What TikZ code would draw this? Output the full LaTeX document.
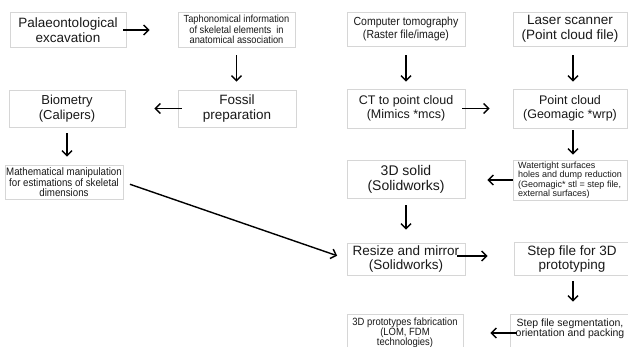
\documentclass[tikz,border=0pt]{standalone}
\usepackage{fontspec}
\setmainfont{Liberation Sans}
\newfontfamily\narrowsans[FakeStretch=0.9]{Liberation Sans}
\usetikzlibrary{arrows.meta}
\definecolor{framegray}{gray}{0.84}
\definecolor{inkgray}{gray}{0.1}

\tikzset{
  stage/.style={draw=framegray, line width=0.7pt, align=center, inner sep=1pt, text=inkgray},
  bigtext/.style={font=\fontsize{13.5}{14.5}\selectfont},
  midtext/.style={font=\fontsize{12.5}{13.5}\selectfont},
  nartext/.style={font=\narrowsans\fontsize{11.7}{12.5}\selectfont},
  smalltext/.style={font=\narrowsans\fontsize{10.3}{10.5}\selectfont},
  tinytext/.style={font=\fontsize{9}{8.3}\selectfont},
  flow/.style={line width=1.4pt, draw=black, -{Straight Barb[length=5pt,width=10pt]}}
}

\begin{document}
\begin{tikzpicture}[x=1pt, y=-1pt]
  \useasboundingbox (0,0) rectangle (628,347);
  \fill[white] (0,0) rectangle (628,347);
  \clip (0,0) rectangle (628,347);

  % left branch: field work and measurement
  \node[stage, bigtext, minimum width=116pt, minimum height=35pt] (palaeo) at (68,30)
    {Palaeontological\\excavation};
  \node[stage, smalltext, minimum width=117pt, minimum height=35pt] (taph) at (236.5,29.5)
    {Taphonomical information\\of skeletal elements\ \ in\\anatomical association};
  \node[stage, bigtext, font=\fontsize{13}{14.5}\selectfont, minimum width=116pt, minimum height=37pt] (biom) at (67,108.5)
    {Biometry\\(Calipers)};
  \node[stage, bigtext, minimum width=118pt, minimum height=37pt] (fossil) at (237,108.5)
    {Fossil\\preparation};
  \node[stage, font=\narrowsans\fontsize{10.8}{10}\selectfont, minimum width=118pt, minimum height=34pt] (math) at (64,182)
    {Mathematical manipulation\\for estimations of skeletal\\dimensions};

  % right branch: digitising and prototyping
  \node[stage, nartext, minimum width=118pt, minimum height=34pt] (ct) at (406,29)
    {Computer tomography\\(Raster file/image)};
  \node[stage, bigtext, minimum width=114pt, minimum height=34pt] (laser) at (570,29)
    {Laser scanner\\(Point cloud file)};
  \node[stage, midtext, minimum width=118pt, minimum height=39pt] (ctpc) at (406,108.5)
    {CT to point cloud\\(Mimics *mcs)};
  \node[stage, midtext, minimum width=114pt, minimum height=39pt] (pc) at (570,108.5)
    {Point cloud\\(Geomagic *wrp)};
  \node[stage, font=\fontsize{14}{15}\selectfont, minimum width=118pt, minimum height=38pt] (solid) at (406,179)
    {3D solid\\(Solidworks)};
  \node[stage, tinytext, align=left, minimum width=114pt, minimum height=40pt] (water) at (570,180)
    {Watertight surfaces\\holes and dump reduction\\(Geomagic* stl = step file,\\external surfaces)};
  \node[stage, bigtext, minimum width=118pt, minimum height=32pt] (resize) at (406,259)
    {Resize and mirror\\(Solidworks)};
  \node[stage, bigtext, minimum width=116pt, minimum height=33pt] (stepf) at (572,259)
    {Step file for 3D\\prototyping};
  \node[stage, font=\narrowsans\fontsize{10.5}{10}\selectfont, minimum width=116pt, minimum height=38pt] (proto) at (405,333)
    {3D prototypes fabrication\\(LOM, FDM\\technologies)};
  \node[stage, font=\fontsize{10.5}{10}\selectfont, minimum width=120pt, minimum height=38pt] (seg) at (570,333)
    {Step file segmentation,\\orientation and packing\\~};

  % connectors
  \draw[flow, shorten <=-3pt, shorten >=28pt] (palaeo.east) -- (palaeo.east -| taph.west);
  \draw[flow, shorten <=8pt, shorten >=8pt] (taph.south) -- (taph.south |- fossil.north);
  \draw[flow, shorten <=-4pt, shorten >=29pt] (fossil.west) -- (fossil.west -| biom.east);
  \draw[flow, shorten <=6pt, shorten >=8pt] (biom.south) -- (biom.south |- math.north);
  \draw[flow, shorten <=7pt, shorten >=10pt] (math.east) -- (resize.west);

  \draw[flow, shorten <=9pt, shorten >=7pt] (ct.south) -- (ct.south |- ctpc.north);
  \draw[flow, shorten <=9pt, shorten >=7pt] ([xshift=3pt]laser.south) -- ([xshift=3pt]laser.south |- pc.north);
  \draw[flow, shorten <=-3pt, shorten >=23pt] (ctpc.east) -- (ctpc.east -| pc.west);
  \draw[flow, shorten <=2pt, shorten >=5pt] ([xshift=3pt]pc.south) -- ([xshift=3pt]pc.south |- water.north);
  \draw[flow, shorten <=0pt, shorten >=22pt] (water.west) -- (water.west -| solid.east);
  \draw[flow, shorten <=7pt, shorten >=13pt] (solid.south) -- (solid.south |- resize.north);
  \draw[flow, shorten <=-8pt, shorten >=26pt] ([yshift=3pt]resize.east) -- ([yshift=3pt]resize.east -| stepf.west);
  \draw[flow, shorten <=5pt, shorten >=12pt] ([xshift=1pt]stepf.south) -- ([xshift=1pt]stepf.south |- seg.north);
  \draw[flow, shorten <=-7pt, shorten >=27pt] (seg.west) -- (seg.west -| proto.east);
\end{tikzpicture}
\end{document}
